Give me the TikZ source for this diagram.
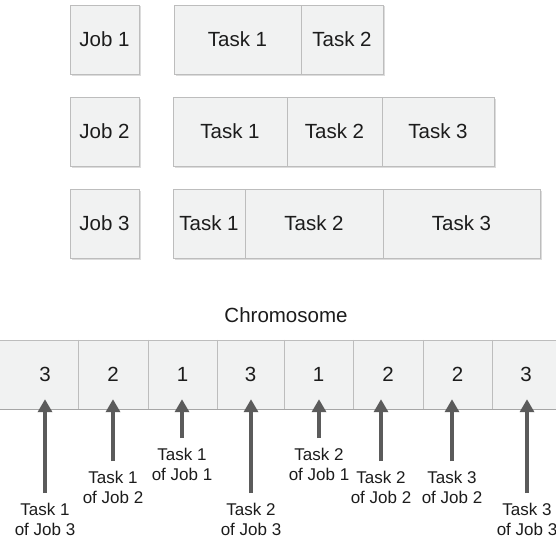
\documentclass[tikz,border=0pt]{standalone}
\usepackage{fontspec}
\setmainfont{Liberation Sans}
\usetikzlibrary{arrows.meta,shadows}
\definecolor{boxfill}{HTML}{F1F2F2}
\definecolor{boxline}{HTML}{BDBDBD}
\definecolor{txt}{HTML}{1C1C1C}
\definecolor{arrowc}{HTML}{5B5B5B}
\definecolor{shade}{HTML}{DCDCDC}
\begin{document}
\begin{tikzpicture}[x=1pt,y=-1pt,
  box/.style={draw=boxline, fill=boxfill, line width=0.8pt, inner sep=0pt,
    minimum height=69pt, text=txt, font=\fontsize{20.5}{24}\selectfont,
    drop shadow={shadow xshift=1.5pt, shadow yshift=-1.5pt, fill=shade, opacity=1}},
  cell/.style={fill=boxfill, inner sep=0pt, minimum height=69pt, text=txt,
    font=\fontsize{20.5}{24}\selectfont},
  divider/.style={draw=boxline, line width=0.8pt},
  lab/.style={align=center, inner sep=0pt, anchor=north, text=txt,
    font=\fontsize{17}{20}\selectfont},
  arr/.style={draw=arrowc, line width=4pt, -{Triangle[width=14pt,length=13pt]}}]
\useasboundingbox (0,0) rectangle (556,543);
\fill[white] (0,0) rectangle (556,543);

% Row 1
\node[box, minimum width=69pt] (j1) at (104.5,39.5) {Job 1};
\node[box, minimum width=127pt] (t11) at (237.5,39.5) {Task 1};
\node[box, minimum width=82pt] (t12) at (342,39.5) {Task 2};
% Row 2
\node[box, minimum width=69pt] (j2) at (104.5,131.5) {Job 2};
\node[box, minimum width=114pt] (t21) at (230,131.5) {Task 1};
\node[box, minimum width=95pt] (t22) at (334.5,131.5) {Task 2};
\node[box, minimum width=112pt] (t23) at (438,131.5) {Task 3};
% Row 3
\node[box, minimum width=69pt] (j3) at (104.5,223.5) {Job 3};
\node[box, minimum width=72pt] (t31) at (209,223.5) {Task 1};
\node[box, minimum width=138pt] (t32) at (314,223.5) {Task 2};
\node[box, minimum width=157pt] (t33) at (461.5,223.5) {Task 3};

% Chromosome
\node[anchor=base, inner sep=0pt, text=txt, font=\fontsize{20.5}{24}\selectfont] (chr) at (286,322) {Chromosome};

\fill[boxfill] (-10,340) rectangle (570,409);
\node[cell, minimum width=66pt] (c1) at (45,374.5) {3};
\node[cell, minimum width=70pt] (c2) at (113,374.5) {2};
\node[cell, minimum width=69pt] (c3) at (182.5,374.5) {1};
\node[cell, minimum width=67pt] (c4) at (250.5,374.5) {3};
\node[cell, minimum width=69pt] (c5) at (318.5,374.5) {1};
\node[cell, minimum width=70pt] (c6) at (388,374.5) {2};
\node[cell, minimum width=69pt] (c7) at (457.5,374.5) {2};
\node[cell, minimum width=68pt] (c8) at (526,374.5) {3};
\draw[divider] (-10,340) -- (570,340);
\draw[divider, draw=black!35] (-10,409) -- (570,409);
\foreach \c in {c1,c2,c3,c4,c5,c6,c7}
  \draw[divider] (\c.north east) -- (\c.south east);

% Labels
\node[lab] (l1) at (45,503) {Task 1\\of Job 3};
\node[lab] (l2) at (113,471) {Task 1\\of Job 2};
\node[lab] (l3) at (182,448) {Task 1\\of Job 1};
\node[lab] (l4) at (251,503) {Task 2\\of Job 3};
\node[lab] (l5) at (319,448) {Task 2\\of Job 1};
\node[lab] (l6) at (381,471) {Task 2\\of Job 2};
\node[lab] (l7) at (452,471) {Task 3\\of Job 2};
\node[lab] (l8) at (527,503) {Task 3\\of Job 3};

% Arrows
\foreach \l/\c in {l1/c1,l2/c2,l3/c3,l4/c4,l5/c5,l6/c6,l7/c7,l8/c8}
  \draw[arr] ([yshift=10pt]\l.north) -- ([yshift=10pt]\l.north |- \c.south);
\end{tikzpicture}
\end{document}
